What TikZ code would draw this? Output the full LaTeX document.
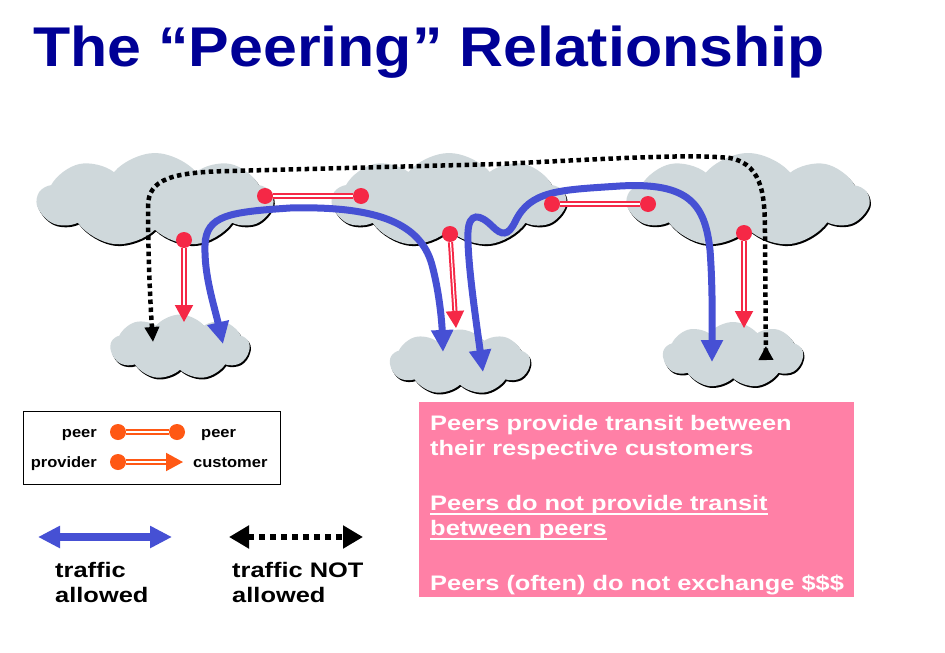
\documentclass[tikz,border=0pt]{standalone}
\usepackage{fontspec}
\setmainfont{Liberation Sans}
\usetikzlibrary{shapes.symbols,shadows,arrows.meta,positioning}
\definecolor{cloudgray}{RGB}{207,216,219}
\definecolor{peerred}{RGB}{245,40,70}
\definecolor{legorange}{RGB}{255,88,20}
\definecolor{trafblue}{RGB}{70,80,212}
\definecolor{titleblue}{RGB}{0,0,150}
\definecolor{notepink}{RGB}{255,128,166}
\newcommand{\thickul}[1]{\setbox0\hbox{#1}\rlap{\rule[-4.5pt]{\wd0}{1.6pt}}#1}
\tikzset{
    CL/.style ={cloud, cloud puffs=9, cloud puff arc=100, cloud ignores aspect, fill=cloudgray, inner sep=0pt,
        drop shadow={shadow xshift=1.2pt, shadow yshift=-1.8pt, fill=black, opacity=1}},
    DT/.style ={circle, fill=peerred, minimum size=16pt, inner sep=0pt},
    PL/.style ={draw=peerred, double=white, double distance=1.2pt, line width=2pt},
    PC/.style ={PL, -{Triangle[length=17pt,width=18pt]}},
    BL/.style ={draw=trafblue, line width=7pt,
        {Triangle[length=22pt,width=21pt]}-{Triangle[length=22pt,width=21pt]}},
    BK/.style ={draw=black, line width=4.5pt, dash pattern=on 4.5pt off 3.5pt},
    TX/.style ={font=\fontsize{21}{25}\selectfont\bfseries, inner sep=0pt, align=left, xscale=1.21},
    LG/.style ={font=\fontsize{15}{18}\selectfont\bfseries, inner sep=0pt, xscale=1.1}}

\begin{document}
\begin{tikzpicture}[x=1pt,y=-1pt]
    \useasboundingbox (0,0) rectangle (945,653);
    \node[anchor=base west, inner sep=0pt, text=titleblue, xscale=1.087, font=\fontsize{56}{60}\selectfont\bfseries] (title) at (33,66) {The “Peering” Relationship};
    % clouds
    \node[CL, minimum width=235pt, minimum height=94pt] (ca) at (155,200) {};
    \node[CL, minimum width=233pt, minimum height=94pt] (cb) at (449,200) {};
    \node[CL, minimum width=241pt, minimum height=94pt] (cc) at (748,200) {};
    \node[CL, minimum width=139pt, minimum height=65pt] (cd) at (180,347) {};
    \node[CL, minimum width=140pt, minimum height=65pt] (ce) at (460,362) {};
    \node[CL, minimum width=140pt, minimum height=66pt] (cf) at (733,355) {};
    % traffic not allowed
    \coordinate (kd) at (153,342);
    \coordinate (kf) at (766,360);
    \draw[BK, {Triangle[length=15pt,width=14pt]}-{Triangle[reversed,length=14pt,width=14pt]}] (kd) .. controls (150,300) and (148,250) .. (148,205)
        .. controls (149,180) and (170,172) .. (230,171) -- (500,164)
        .. controls (620,158) and (690,154) .. (730,158)
        .. controls (765,165) and (765,200) .. (765,240) -- (kf);
    % traffic allowed
    \coordinate (bd) at (223,344);
    \coordinate (be1) at (443,352);
    \coordinate (be2) at (483,372);
    \coordinate (bf) at (712,362);
    \draw[BL] (bd) .. controls (214,305) and (204,275) .. (205,245)
        .. controls (206,215) and (230,212) .. (290,208)
        .. controls (370,206) and (420,220) .. (432,265)
        .. controls (440,295) and (442,325) .. (be1);
    \draw[BL] (be2) .. controls (476,320) and (467,260) .. (468,232)
        .. controls (469,212) and (480,214) .. (492,226)
        .. controls (502,236) and (508,236) .. (515,222)
        .. controls (530,190) and (560,190) .. (620,186)
        .. controls (690,182) and (705,205) .. (710,250)
        .. controls (713,290) and (712,330) .. (bf);
    % peers and customers
    \node[DT] (pa) at (265,196) {};
    \node[DT] (pb) at (361,196) {};
    \node[DT] (qb) at (552,204) {};
    \node[DT] (qc) at (648,204) {};
    \node[DT] (ua) at (184,240) {};
    \node[DT] (ub) at (450,234) {};
    \node[DT] (uc) at (744,233) {};
    \coordinate (ud) at (184,322);
    \coordinate (ue) at (456,328);
    \coordinate (uf) at (744,328);
    \draw[PL] (pa) -- (pb);
    \draw[PL] (qb) -- (qc);
    \draw[PC] (ua) -- (ud);
    \draw[PC] (ub) -- (ue);
    \draw[PC] (uc) -- (uf);
    % legend
    \node[draw, line width=0.8pt, fill=white, minimum width=257pt, minimum height=73pt, anchor=north west] (lg) at (23,411) {};
    \node[LG, anchor=base east] (l1) at (97,437) {peer};
    \node[LG, anchor=base east] (l2) at (97,467) {provider};
    \node[DT, fill=legorange] (o1) at (118,432) {};
    \node[DT, fill=legorange] (o2) at (177,432) {};
    \node[DT, fill=legorange] (o3) at (118,462) {};
    \coordinate (o4) at (183,462);
    \node[LG, anchor=base west] (r1) at (201,437) {peer};
    \node[LG, anchor=base west] (r2) at (193,467) {customer};
    \draw[PL, draw=legorange] (o1) -- (o2);
    \draw[PC, draw=legorange] (o3) -- (o4);
    \coordinate (a1) at (38,537);
    \coordinate (a2) at (172,537);
    \coordinate (n1) at (229,537);
    \coordinate (n2) at (363,537);
    \draw[BL, line width=8pt] (a1) -- (a2);
    \draw[BK, line width=6pt, dash pattern=on 6pt off 5pt,
        {Triangle[length=20pt,width=22pt]}-{Triangle[length=20pt,width=22pt]}] (n1) -- (n2);
    \node[TX, anchor=north west] (ta) at (55,562) {traffic\\allowed};
    \node[TX, anchor=north west] (tn) at (232,562) {traffic NOT\\allowed};
    % notes
    \node[fill=notepink, minimum width=435pt, minimum height=195pt, anchor=north west] (nb) at (419,402) {};
    \node[TX, text=white, anchor=north west] (nt) at (430,415) {Peers provide transit between\\their respective customers\\[30pt]\thickul{Peers do not provide transit}\\\thickul{between peers}\\[30pt]Peers (often) do not exchange \$\$\$};
\end{tikzpicture}
\end{document}
